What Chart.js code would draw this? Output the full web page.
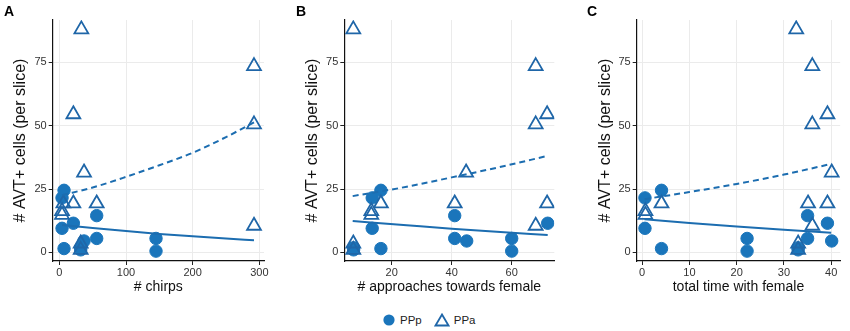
<!DOCTYPE html>
<html>
<head>
<meta charset="utf-8">
<script src="https://cdn.jsdelivr.net/npm/chart.js@4.4.0/dist/chart.umd.min.js"></script>
<style>
  body { margin: 0; background: #fff; font-family: "Liberation Sans", Arial, sans-serif; }
  #wrap { position: relative; width: 850px; height: 331px; }
  #wrap canvas { position: absolute; top: 0; }
  .tag { position: absolute; top: 3px; font-size: 14px; font-weight: bold; color: #000; }
  #legend { position: absolute; top: 313px; left: 382px; display: flex; align-items: center; font-size: 11.5px; color: #222; }
  #legend svg { display: block; }
</style>
</head>
<body>
<div id="wrap">
  <canvas id="chartA" width="283" height="300" style="left:0"></canvas>
  <canvas id="chartB" width="283" height="300" style="left:283px"></canvas>
  <canvas id="chartC" width="284" height="300" style="left:566px"></canvas>
  <div class="tag" style="left:4px">A</div>
  <div class="tag" style="left:296px">B</div>
  <div class="tag" style="left:587px">C</div>
  <div id="legend">
    <svg width="14" height="14"><circle cx="7" cy="7" r="5.6" fill="#1a75bb"/></svg>
    <span style="margin:0 12px 0 4px">PPp</span>
    <svg width="16" height="14"><polygon points="8,1.5 14.5,12.5 1.5,12.5" fill="none" stroke="#1f66a8" stroke-width="1.8"/></svg>
    <span style="margin-left:4px">PPa</span>
  </div>
</div>
<script>
// PPp (circles), one entry per slice
const pppChirps     = [4, 4, 7, 7, 145, 145, 56, 56, 21, 32, 32, 37];
const pppApproaches = [13.5, 13.5, 16.4, 16.4, 60, 60, 41, 41, 72, 7.3, 7.3, 45];
const pppTime       = [0.6, 0.6, 4.1, 4.1, 22.2, 22.2, 35, 35, 39.2, 33, 33, 40.1];
const pppCells      = [21.5, 9.5, 24.5, 1.5, 5.5, 0.5, 14.5, 5.5, 11.5, 1.8, 1, 4.5];

// PPa (triangles)
const ppaChirps     = [4, 4, 6, 56, 21, 21, 33, 32, 32, 292, 292, 292, 37];
const ppaApproaches = [13.2, 13.2, 16.4, 41, 71.8, 71.8, 7.2, 7.2, 7.2, 68, 68, 68, 44.8];
const ppaTime       = [0.7, 0.7, 4.1, 35.1, 39.2, 39.2, 32.6, 33, 33, 36, 36, 36, 40.1];
const ppaCells      = [16.3, 14.8, 19.3, 19.3, 54.5, 19.3, 88, 3.5, 1, 73.5, 50.5, 10.5, 31.5];

// fitted curves
const fitChirpsX = [4, 50, 100, 150, 200, 250, 292];
const fitChirpsPPp = [10.8, 9.6, 8.4, 7.3, 6.4, 5.5, 4.8];
const fitChirpsPPa = [22.6, 25.6, 29.8, 34.4, 39.3, 45.5, 51.3];

const fitApprX = [7, 25, 40, 55, 72];
const fitApprPPp = [12.4, 10.7, 9.3, 8.1, 6.9];
const fitApprPPa = [22.2, 25.9, 29.6, 33.4, 38.1];

const fitTimeX = [0.5, 10, 20, 30, 40];
const fitTimePPp = [13.1, 11.6, 10.2, 8.9, 7.7];
const fitTimePPa = [21, 23.8, 27, 30.7, 34.9];

const yTicks = [0, 25, 50, 75];
const xTicksA = [0, 100, 200, 300];
const xTicksB = [20, 40, 60];
const xTicksC = [0, 10, 20, 30, 40];

const circleColor = '#1a75bb';
const triColor = '#1f66a8';
const lineColor = '#1c6db0';
const font = '"Liberation Sans", Arial, sans-serif';

const pts = (xs, ys) => xs.map((x, i) => ({ x: x, y: ys[i] }));

function makePanel(id, p) {
  new Chart(document.getElementById(id), {
    type: 'scatter',
    data: {
      datasets: [
        {
          label: 'fit PPp',
          data: pts(p.fitX, p.fitPPp),
          showLine: true,
          borderColor: lineColor,
          borderWidth: 2,
          pointRadius: 0,
          cubicInterpolationMode: 'monotone',
          order: 1
        },
        {
          label: 'fit PPa',
          data: pts(p.fitX, p.fitPPa),
          showLine: true,
          borderColor: lineColor,
          borderWidth: 2,
          borderDash: [6, 4],
          pointRadius: 0,
          cubicInterpolationMode: 'monotone',
          order: 2
        },
        {
          label: 'PPa',
          data: pts(p.ppaX, ppaCells),
          pointStyle: 'triangle',
          pointRadius: 8,
          backgroundColor: 'rgba(0,0,0,0)',
          borderColor: triColor,
          borderWidth: 1.8,
          order: 3
        },
        {
          label: 'PPp',
          data: pts(p.pppX, pppCells),
          pointStyle: 'circle',
          pointRadius: 6.2,
          backgroundColor: circleColor,
          borderColor: circleColor,
          borderWidth: 1,
          order: 4
        }
      ]
    },
    options: {
      responsive: false,
      animation: false,
      devicePixelRatio: 1,
      layout: { padding: { left: p.padLeft, right: p.padRight, top: 20, bottom: 0 } },
      plugins: { legend: { display: false }, tooltip: { enabled: false } },
      scales: {
        x: {
          type: 'linear',
          min: p.xMin,
          max: p.xMax,
          afterBuildTicks: s => { s.ticks = p.xTicks.map(v => ({ value: v })); },
          afterFit: s => { s.height = 39; },
          grid: { color: '#ebebeb', lineWidth: 1, tickColor: '#222', tickLength: 4 },
          border: { color: '#111', width: 1.2 },
          ticks: { color: '#333', font: { family: font, size: 11 }, padding: 1, maxRotation: 0 },
          title: { display: true, text: p.xTitle, color: '#111', font: { family: font, size: 14 }, padding: { top: 0, bottom: 4 } }
        },
        y: {
          type: 'linear',
          min: -3.4,
          max: 91.7,
          afterBuildTicks: s => { s.ticks = yTicks.map(v => ({ value: v })); },
          afterFit: s => { s.width = p.yWidth; },
          grid: { color: '#ebebeb', lineWidth: 1, tickColor: '#222', tickLength: 4 },
          border: { color: '#111', width: 1.2 },
          ticks: { color: '#333', font: { family: font, size: 11 }, padding: 2 },
          title: { display: true, text: '# AVT+ cells (per slice)', color: '#111', font: { family: font, size: 16 }, padding: { top: 4, bottom: 2 } }
        }
      }
    }
  });
}

makePanel('chartA', {
  pppX: pppChirps, ppaX: ppaChirps,
  fitX: fitChirpsX, fitPPp: fitChirpsPPp, fitPPa: fitChirpsPPa,
  xMin: -10, xMax: 307, xTicks: xTicksA, xTitle: '# chirps',
  padLeft: 7, padRight: 19, yWidth: 45.7
});

makePanel('chartB', {
  pppX: pppApproaches, ppaX: ppaApproaches,
  fitX: fitApprX, fitPPp: fitApprPPp, fitPPa: fitApprPPa,
  xMin: 4.2, xMax: 74.2, xTicks: xTicksB, xTitle: '# approaches towards female',
  padLeft: 16.4, padRight: 11.7, yWidth: 44.9
});

makePanel('chartC', {
  pppX: pppTime, ppaX: ppaTime,
  fitX: fitTimeX, fitPPp: fitTimePPp, fitPPa: fitTimePPa,
  xMin: -1.15, xMax: 41.9, xTicks: xTicksC, xTitle: 'total time with female',
  padLeft: 26.1, padRight: 2.3, yWidth: 44.6
});
</script>
</body>
</html>
